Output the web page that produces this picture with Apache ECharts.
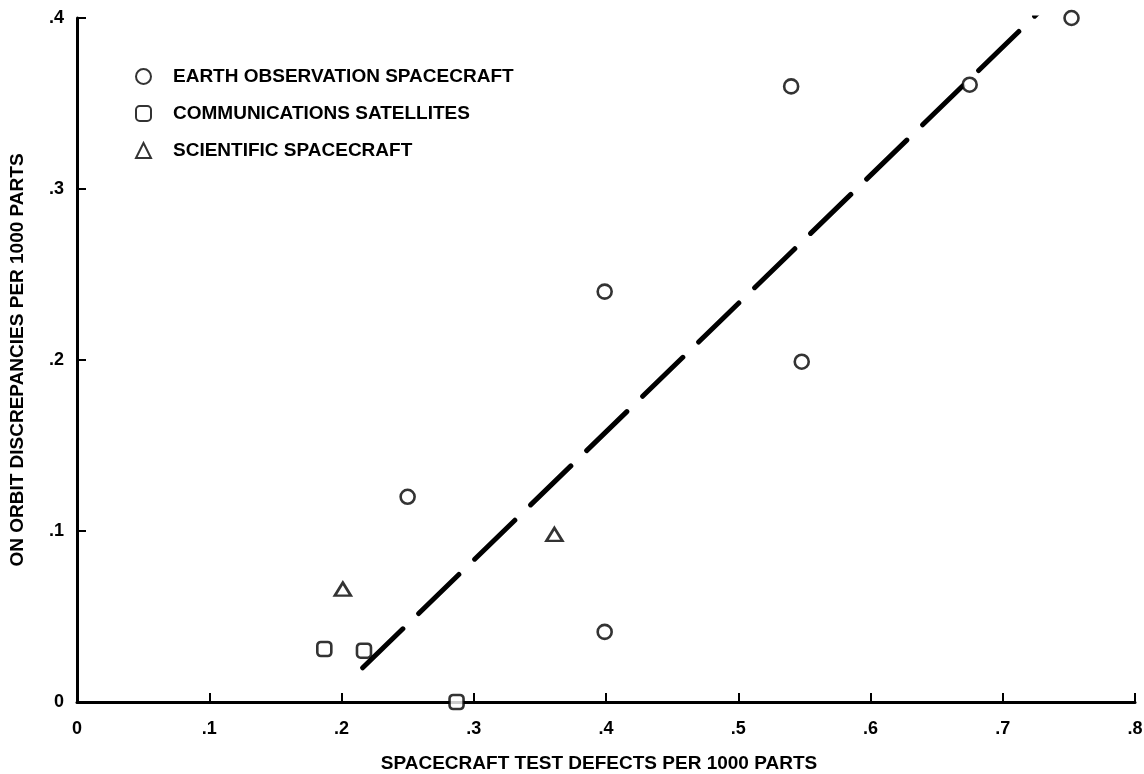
<!DOCTYPE html>
<html>
<head>
<meta charset="utf-8">
<script src="https://cdn.jsdelivr.net/npm/echarts@6/dist/echarts.min.js"></script>
<style>html,body{margin:0;padding:0;background:#fff;}#c{width:1144px;height:774px;}</style>
</head>
<body>
<div id="c"></div>
<script>
var xTicks = [0, 0.1, 0.2, 0.3, 0.4, 0.5, 0.6, 0.7, 0.8];
var yTicks = [0, 0.1, 0.2, 0.3, 0.4];
var earthObs = [[0.752, 0.400], [0.675, 0.361], [0.540, 0.360], [0.399, 0.240], [0.548, 0.199], [0.250, 0.120], [0.399, 0.041]];
var commSat = [[0.187, 0.031], [0.217, 0.030], [0.287, 0.000]];
var scientific = [[0.201, 0.066], [0.361, 0.098]];
var trendLine = [[0.216, 0.020], [0.728, 0.404]];
var seriesNames = ['EARTH OBSERVATION SPACECRAFT', 'COMMUNICATIONS SATELLITES', 'SCIENTIFIC SPACECRAFT'];

function fmt(v) {
  if (v === 0) return '0';
  return String(Math.round(v * 10) / 10).replace(/^0/, '');
}
var font = 'Liberation Sans';
var markerStyle = {color: '#fff', borderColor: '#000', borderWidth: 2.6};
var chart = echarts.init(document.getElementById('c'));
chart.setOption({
  animation: false,
  backgroundColor: '#fff',
  grid: {left: 77, right: 9, top: 18, bottom: 72, containLabel: false, outerBoundsMode: 'none'},
  legend: {
    orient: 'vertical', left: 130, top: 62, itemWidth: 15, itemHeight: 15, itemGap: 18,
    data: seriesNames,
    textStyle: {fontFamily: font, fontWeight: 'bold', fontSize: 19, lineHeight: 15, color: '#000', padding: [0, 0, 0, 17]},
    selectedMode: false
  },
  xAxis: {
    type: 'value', min: 0, max: 0.8, interval: 0.1,
    name: 'SPACECRAFT TEST DEFECTS PER 1000 PARTS', nameLocation: 'middle', nameGap: 52,
    nameTextStyle: {fontFamily: font, fontWeight: 'bold', fontSize: 19, color: '#000', padding: [0, 14, 0, 0]},
    axisLine: {lineStyle: {color: '#000', width: 3}},
    axisTick: {inside: true, length: 9, lineStyle: {color: '#000', width: 2}},
    axisLabel: {fontFamily: font, fontWeight: 'bold', fontSize: 18, color: '#000', margin: 18,
      formatter: function (v) { return fmt(v); }},
    splitLine: {show: false}
  },
  yAxis: {
    type: 'value', min: 0, max: 0.4, interval: 0.1,
    name: 'ON ORBIT DISCREPANCIES PER 1000 PARTS', nameLocation: 'middle', nameGap: 50,
    nameTextStyle: {fontFamily: font, fontWeight: 'bold', fontSize: 19, color: '#000'},
    axisLine: {show: true, lineStyle: {color: '#000', width: 3}},
    axisTick: {show: true, inside: true, length: 9, lineStyle: {color: '#000', width: 2}},
    axisLabel: {fontFamily: font, fontWeight: 'bold', fontSize: 18, color: '#000', margin: 13,
      formatter: function (v) { return fmt(v); }},
    splitLine: {show: false}
  },
  series: [
    {name: seriesNames[0], type: 'scatter', symbol: 'circle', symbolSize: 14, data: earthObs, itemStyle: markerStyle, z: 3},
    {name: seriesNames[1], type: 'scatter', symbol: 'roundRect', symbolSize: 14, data: commSat, itemStyle: markerStyle, z: 3},
    {name: seriesNames[2], type: 'scatter', symbol: 'triangle', symbolSize: [16, 13], data: scientific, itemStyle: markerStyle, z: 3},
    {name: 'trend', type: 'line', data: trendLine, symbol: 'none', silent: true, z: 2,
      lineStyle: {color: '#000', width: 5, type: [56, 22], cap: 'round'}}
  ]
});
</script>
</body>
</html>
